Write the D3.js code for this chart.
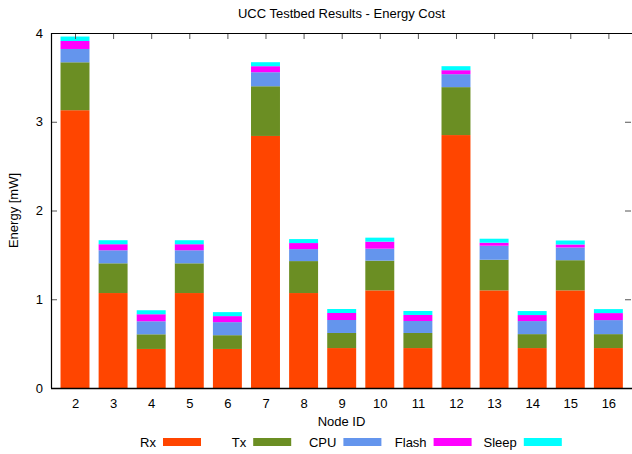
<!DOCTYPE html>
<html>
<head>
<meta charset="utf-8">
<script src="https://cdn.jsdelivr.net/npm/d3@7"></script>
<style>
  body { margin: 0; background: #fff; }
  text { font-family: "Liberation Sans", Arial, sans-serif; }
</style>
</head>
<body>
<div id="chart-area"></div>
<script>
// Energy cost per node, stacked by component (mW)
var nodes = [2, 3, 4, 5, 6, 7, 8, 9, 10, 11, 12, 13, 14, 15, 16];
var rx    = [3.13, 1.07, 0.44, 1.07, 0.44, 2.84, 1.07, 0.45, 1.10, 0.45, 2.85, 1.10, 0.45, 1.10, 0.45];
var tx    = [0.54, 0.335, 0.165, 0.335, 0.155, 0.56, 0.36, 0.17, 0.335, 0.17, 0.54, 0.345, 0.157, 0.34, 0.157];
var cpu   = [0.15, 0.147, 0.147, 0.147, 0.147, 0.158, 0.135, 0.146, 0.135, 0.135, 0.146, 0.158, 0.147, 0.143, 0.158];
var flash = [0.09, 0.068, 0.079, 0.068, 0.068, 0.068, 0.068, 0.079, 0.079, 0.068, 0.045, 0.034, 0.068, 0.034, 0.079];
var sleep = [0.05, 0.045, 0.045, 0.045, 0.045, 0.045, 0.045, 0.045, 0.045, 0.045, 0.045, 0.045, 0.045, 0.045, 0.045];

var seriesNames = ["Rx", "Tx", "CPU", "Flash", "Sleep"];
var seriesColors = ["#ff4500", "#6b8e23", "#6495ed", "#ff00ff", "#00ffff"];
var yTicks = [0, 1, 2, 3, 4];

var width = 632, height = 454;
var plot = { left: 51, right: 632, top: 33, bottom: 388 };
var fontSize = "13px";

var svg = d3.select("#chart-area")
    .append("svg")
    .attr("width", width)
    .attr("height", height);

// build rows for the stack
var table = nodes.map(function(n, i) {
    return { node: n, Rx: rx[i], Tx: tx[i], CPU: cpu[i], Flash: flash[i], Sleep: sleep[i] };
});
var stacked = d3.stack().keys(seriesNames)(table);

// Scales
var x = d3.scaleLinear().domain([-0.63, 14.62]).range([plot.left, plot.right]);
var y = d3.scaleLinear().domain([0, 4]).range([plot.bottom, plot.top]);
var barW = x(0.76) - x(0);

// Bars
var layers = svg.selectAll(".layer")
    .data(stacked)
    .enter().append("g")
    .attr("class", "layer")
    .attr("fill", function(d, i) { return seriesColors[i]; });

layers.selectAll("rect")
    .data(function(d) { return d; })
    .enter().append("rect")
    .attr("x", function(d, i) { return x(i) - barW / 2; })
    .attr("width", barW)
    .attr("y", function(d) { return y(d[1]); })
    .attr("height", function(d) { return y(d[0]) - y(d[1]); });

// Inward tick marks (gnuplot style)
var idx = d3.range(nodes.length);
svg.append("g")
    .attr("transform", "translate(0," + plot.top + ")")
    .call(d3.axisTop(x).tickValues(idx).tickSize(-6).tickFormat(""))
    .call(function(g) { g.select(".domain").remove(); g.selectAll("line").attr("stroke", "#555"); });

svg.append("g")
    .attr("transform", "translate(" + plot.left + ",0)")
    .call(d3.axisLeft(y).tickValues(yTicks).tickSize(-6).tickFormat(""))
    .call(function(g) { g.select(".domain").remove(); g.selectAll("line").attr("stroke", "#555"); });

svg.append("g")
    .attr("transform", "translate(" + (plot.right - 1) + ",0)")
    .call(d3.axisRight(y).tickValues(yTicks).tickSize(-6).tickFormat(""))
    .call(function(g) { g.select(".domain").remove(); g.selectAll("line").attr("stroke", "#555"); });

// Tick labels
var xAxis = svg.append("g")
    .attr("transform", "translate(0," + plot.bottom + ")")
    .call(d3.axisBottom(x).tickValues(idx).tickSize(0).tickPadding(11)
        .tickFormat(function(i) { return nodes[i]; }));
xAxis.select(".domain").remove();
xAxis.selectAll("text").attr("font-size", fontSize).attr("fill", "#000")
    .style("font-family", "'Liberation Sans', Arial, sans-serif");

var yAxis = svg.append("g")
    .attr("transform", "translate(" + plot.left + ",0)")
    .call(d3.axisLeft(y).tickValues(yTicks).tickSize(0).tickPadding(8).tickFormat(d3.format("d")));
yAxis.select(".domain").remove();
yAxis.selectAll("text").attr("font-size", fontSize).attr("fill", "#000")
    .style("font-family", "'Liberation Sans', Arial, sans-serif");

// Border
svg.append("path")
    .attr("d", "M" + (plot.left + 0.5) + "," + plot.bottom + "V" + (plot.top + 0.5) + "H" + plot.right)
    .attr("fill", "none")
    .attr("stroke", "#000")
    .attr("stroke-width", 1.2);
svg.append("line")
    .attr("x1", plot.left).attr("x2", plot.right)
    .attr("y1", plot.bottom + 0.5).attr("y2", plot.bottom + 0.5)
    .attr("stroke", "#000")
    .attr("stroke-width", 1.5);

// Title and axis labels
svg.append("text")
    .attr("x", (plot.left + plot.right) / 2)
    .attr("y", 18)
    .attr("text-anchor", "middle")
    .attr("font-size", fontSize)
    .text("UCC Testbed Results - Energy Cost");

svg.append("text")
    .attr("transform", "rotate(-90)")
    .attr("x", -(plot.top + plot.bottom) / 2)
    .attr("y", 18)
    .attr("text-anchor", "middle")
    .attr("font-size", fontSize)
    .text("Energy [mW]");

svg.append("text")
    .attr("x", (plot.left + plot.right) / 2)
    .attr("y", 426)
    .attr("text-anchor", "middle")
    .attr("font-size", fontSize)
    .text("Node ID");

// Legend
var legend = svg.selectAll(".key")
    .data(seriesNames)
    .enter().append("g")
    .attr("class", "key")
    .attr("transform", function(d, i) { return "translate(" + (163 + i * 90.2) + ",438)"; });

legend.append("text")
    .attr("x", -7)
    .attr("y", 9)
    .attr("text-anchor", "end")
    .attr("font-size", fontSize)
    .text(function(d) { return d; });

legend.append("rect")
    .attr("width", 38)
    .attr("height", 8)
    .attr("fill", function(d, i) { return seriesColors[i]; });
</script>
</body>
</html>
